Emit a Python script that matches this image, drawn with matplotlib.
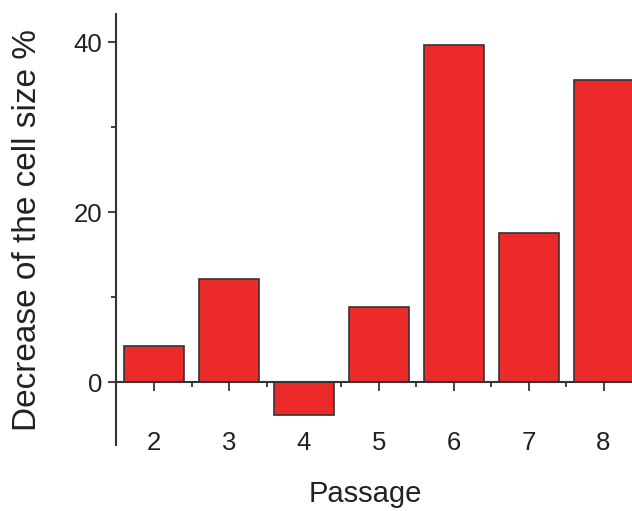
import matplotlib.pyplot as plt
from matplotlib.ticker import FixedLocator

plt.rcParams['font.family'] = ['Liberation Sans', 'DejaVu Sans']

passages = [2, 3, 4, 5, 6, 7, 8]
decrease = [4.3, 12.1, -3.9, 8.8, 39.7, 17.5, 35.5]

ink = '#333333'
bar_color = '#ec2a2a'

fig = plt.figure(figsize=(6.32, 5.11), dpi=100)
ax = fig.add_axes([116 / 632, 1 - 445 / 511, 1 - 116 / 632, (445 - 14) / 511])

ax.bar(passages, decrease, width=0.8, color=bar_color, edgecolor=ink, linewidth=1.2, zorder=2)

ax.set_xlim(1.49, 8.38)
ax.set_ylim(-7.4, 43.3)

for side in ['top', 'right']:
    ax.spines[side].set_visible(False)
ax.spines['bottom'].set_position(('data', 0))
for side in ['left', 'bottom']:
    ax.spines[side].set_color(ink)
    ax.spines[side].set_linewidth(1.5)
    ax.spines[side].set_zorder(3)

ax.set_xticks(passages)
ax.xaxis.set_minor_locator(FixedLocator([p + 0.5 for p in passages[:-1]]))
ax.set_yticks([0, 20, 40])
ax.yaxis.set_minor_locator(FixedLocator([10, 30]))

ax.tick_params(axis='x', which='major', direction='out', length=6.3, width=1.3,
               color=ink, labelsize=18.5, labelcolor='#222222', pad=29)
ax.tick_params(axis='x', which='minor', direction='out', length=3.6, width=1.3, color=ink)
ax.tick_params(axis='y', which='major', direction='out', length=5.5, width=1.3,
               color=ink, labelsize=18.5, labelcolor='#222222', pad=4.5)
ax.tick_params(axis='y', which='minor', direction='out', length=3.6, width=1.3, color=ink)

fig.text(28 / 632, 1 - 230 / 511, 'Decrease of the cell size %', rotation=90,
         ha='center', va='center', fontsize=24, color='#222222')
fig.text(365 / 632, 1 - 502 / 511, 'Passage', ha='center', va='baseline',
         fontsize=21, color='#222222')

fig.savefig('out.png', dpi=100)
